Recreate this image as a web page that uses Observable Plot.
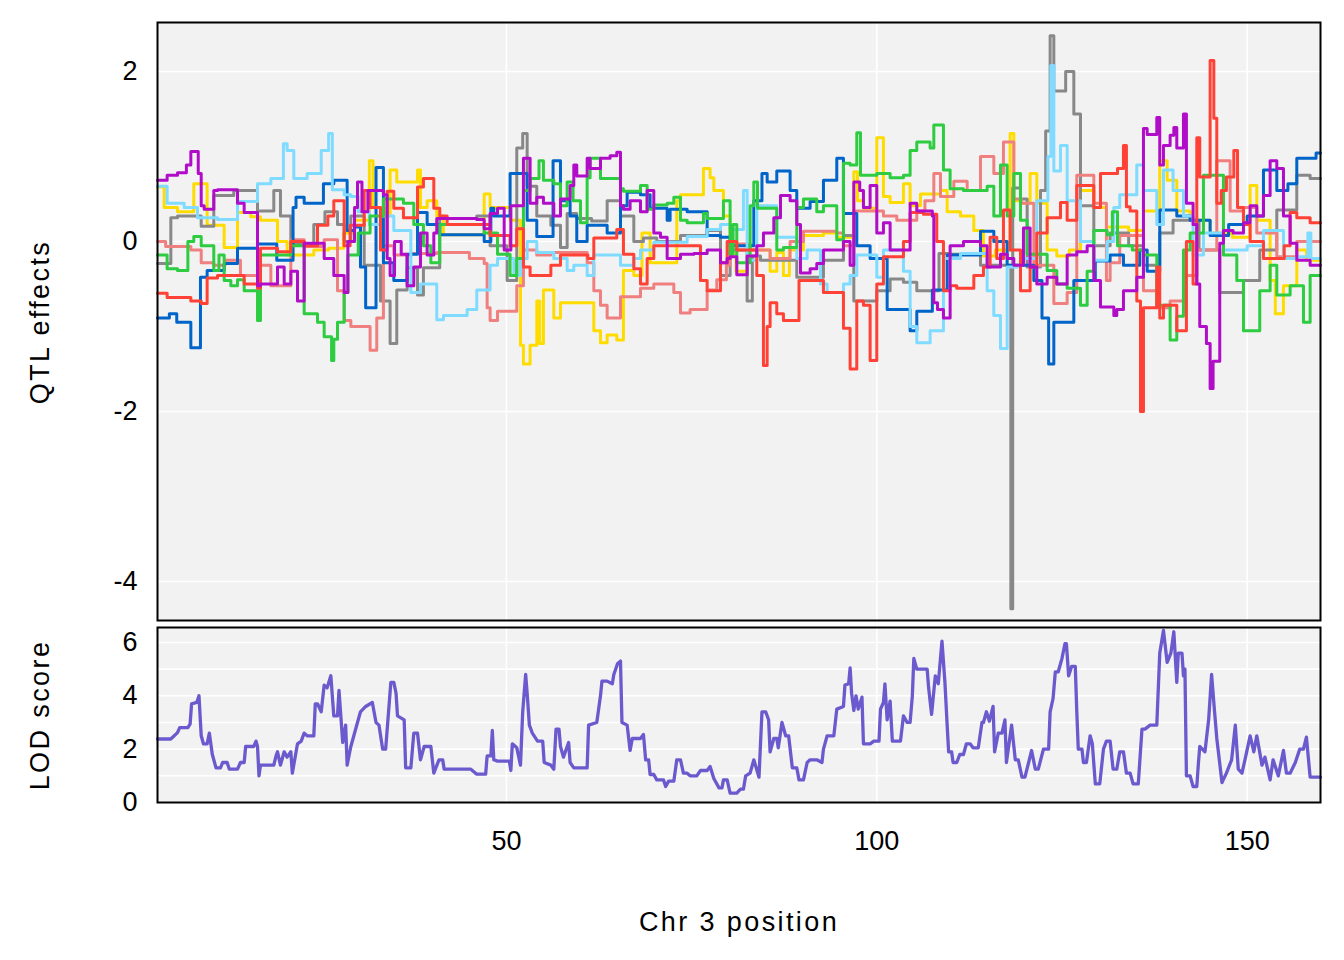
<!DOCTYPE html>
<html><head><meta charset="utf-8">
<script src="https://cdn.jsdelivr.net/npm/d3@7"></script>
<script src="https://cdn.jsdelivr.net/npm/@observablehq/plot@0.6"></script>
<style>
body{margin:0;background:#fff;font-family:"Liberation Sans",Arial,sans-serif;}
#wrap{position:relative;width:1344px;height:960px;overflow:hidden;}
#top,#bot{position:absolute;left:0;}
#top{top:0}
#bot{top:622px}
.lab{position:absolute;font-size:27px;letter-spacing:2.4px;color:#000;white-space:nowrap;}
.rot{transform:translate(-50%,-50%) rotate(-90deg);}
</style></head><body>
<div id="wrap">
<div id="top"></div><div id="bot"></div>
<div class="lab rot" style="left:40px;top:322px">QTL effects</div>
<div class="lab rot" style="left:40px;top:715px">LOD score</div>
<div class="lab" style="left:739px;top:922px;transform:translate(-50%,-50%)">Chr 3 position</div>
</div>
<script>
// ---- data (position cM, value) ----
const founders = ["AJ","B6","129","NOD","NZO","CAST","PWK","WSB"];
const founderColors = ["#FFDC00","#888888","#F08080","#0064C9","#7FDBFF","#2ECC40","#FF4136","#B10DC9"];
const xTicks = [50,100,150];
const effTicks = [2,0,-2,-4];
const lodTicks = [0,2,4,6];

const AJ = [[2.9,0.64],[3.8,0.4],[5.6,0.35],[7.8,0.68],[9.6,0.19],[11.9,-0.07],[13.7,0.34],[15.5,0.29],[16.8,0.25],[19.1,0.0],[20.4,-0.16],[24,-0.1],[26,-0.08],[28,0.1],[29.5,0.25],[31.5,0.95],[32,0.4],[33.5,0.3],[34.3,0.84],[35.2,0.7],[38,0.84],[38.4,0.4],[39.3,0.48],[40.6,0.3],[41.5,0.08],[47,0.56],[47.8,0.4],[50.5,0.25],[51.9,-1.22],[52.3,-1.44],[53.2,-1.22],[54.1,-0.7],[54.5,-1.2],[55,-0.57],[56.4,-0.9],[57.3,-0.72],[61.8,-1.05],[62.7,-1.19],[63.6,-1.1],[64.9,-1.16],[65.8,-0.34],[67.2,-0.4],[68.3,0.1],[69.4,-0.25],[73,0.48],[73.5,0.55],[76.6,0.86],[77.5,0.75],[78,0.6],[79.3,0.3],[80.2,-0.1],[81,-0.35],[82.5,-0.1],[85.6,-0.35],[86.5,-0.13],[87.4,-0.4],[88.2,-0.1],[90.1,0.07],[92.8,0.1],[94.6,0.05],[96.9,0.82],[97.4,0.48],[98.2,0.39],[100,1.22],[100.9,0.53],[101.8,0.46],[103.6,0.68],[104.5,0.42],[105.9,0.56],[108.6,0.6],[109.5,0.35],[111.3,0.3],[113.1,0.13],[114.4,-0.17],[116,-0.1],[118,1.27],[118.5,0.48],[119.4,0.45],[120.7,0.8],[121.6,0.45],[123,-0.1],[124.3,-0.17],[126,-0.1],[127.5,0.6],[129.3,0.4],[131,0.17],[134,0.13],[136,0.36],[138.2,0.95],[139.2,0.72],[140.5,0.36],[142.3,0.25],[145,0.1],[148,0.05],[150.4,0.66],[151.3,0.25],[153.1,-0.46],[153.8,-0.85],[154.9,-0.52],[156.7,-0.1],[158,-0.22],[159.9,-0.22]];

const B6 = [[2.9,-0.26],[4.7,0.28],[5.6,0.3],[8.8,0.18],[10.5,0.54],[13.2,0.6],[16.4,0.36],[18.6,0.6],[19.5,0.3],[20.9,-0.03],[24,0.2],[25.5,0.35],[27.2,0.2],[28.1,0.0],[29,0.3],[30.8,-0.28],[33,-0.7],[34.3,-1.2],[35.2,-0.57],[36.6,-0.31],[38,-0.63],[38.8,-0.31],[41,0.27],[46,0.3],[47.8,-0.05],[50.1,-0.46],[51.4,1.1],[52.2,1.27],[52.8,0.65],[54.1,0.3],[56,0.19],[57.3,-0.07],[58.2,0.33],[59.5,0.27],[61.5,0.24],[63.6,0.48],[65.4,0.3],[67.2,0.0],[68.5,0.04],[70.3,0.0],[73.5,0.07],[77.1,0.13],[78.9,-0.4],[80.2,-0.1],[82.5,-0.7],[83.2,-0.17],[84.3,-0.22],[89.2,-0.42],[92.8,-0.22],[95.5,0.07],[96.9,-0.7],[100,-0.58],[101.8,-0.44],[103.6,-0.48],[105.4,-0.58],[108.4,-0.14],[109.7,-0.15],[114,-0.28],[118.1,-4.32],[118.35,0.63],[119.4,0.5],[120.3,-0.3],[122.1,0.6],[122.8,1.3],[123.4,2.42],[123.9,1.77],[125.5,2.0],[126.6,1.5],[127.5,0.42],[129.3,-0.05],[131.5,0.1],[134,-0.05],[136,-0.28],[138.2,0.1],[140,0.25],[143.5,-0.1],[146.3,-0.6],[149.5,-0.46],[151.7,-0.1],[154,0.37],[156.7,0.78],[158.5,0.74],[159.9,0.74]];

const S129 = [[2.9,0.0],[4,-0.06],[7.4,-0.1],[8.8,-0.25],[10.5,-0.28],[12,-0.22],[14.1,-0.4],[16.4,-0.28],[18.2,-0.52],[20.9,0.02],[22.7,-0.06],[25.4,0.02],[27.2,-0.58],[28.1,-0.93],[29,-1.0],[31.6,-1.28],[32.5,-0.9],[33.4,-0.05],[34.8,-0.16],[37.1,-0.14],[40.6,-0.13],[45,-0.2],[47,-0.26],[47.4,-0.78],[47.8,-0.93],[48.8,-0.82],[51.4,-0.52],[52.3,-0.1],[54.1,-0.16],[56,-0.13],[60.9,-0.25],[61.8,-0.58],[62.7,-0.75],[63.6,-0.9],[65.4,-0.65],[68.1,-0.55],[69.9,-0.5],[72.6,-0.6],[73.5,-0.84],[74.8,-0.8],[77.1,-0.57],[78.4,-0.45],[79.7,-0.28],[80.2,-0.03],[82.9,-0.1],[85.6,-0.2],[88.3,0.0],[90.1,0.12],[94.6,0.1],[95.5,-0.05],[96.9,0.36],[100.9,0.3],[102.7,0.25],[105.4,0.36],[106.5,0.48],[107.7,0.8],[108.6,0.53],[110.4,0.71],[112.2,0.6],[114,1.0],[115.8,0.8],[117.1,1.17],[118.5,0.5],[119.5,0.45],[121.2,-0.28],[123.9,-0.73],[125.7,-0.6],[127,0.78],[129.3,0.45],[131,-0.46],[131.5,-0.25],[132.8,0.07],[136,-0.58],[137.8,-0.78],[139.6,-0.7],[141.4,-0.4],[143.2,-0.1],[145.9,0.95],[147.7,0.36],[149.5,0.4],[151.3,0.1],[154,-0.18],[156.7,0.0],[159.9,0.0]];

const NOD = [[2.9,-0.9],[4.5,-0.85],[5.5,-0.95],[7.4,-1.25],[8.7,-0.42],[9.6,-0.34],[11.9,-0.26],[13.7,-0.08],[16.4,-0.03],[19,-0.22],[21.2,0.4],[21.6,0.52],[22.7,0.45],[25.3,0.68],[26.7,0.72],[28.5,0.13],[29.5,0.17],[30.3,-0.3],[31,-0.78],[32.4,0.87],[33.4,-0.25],[34.8,-0.46],[36.6,-0.15],[38,0.34],[39.3,0.2],[41,0.08],[47,0.0],[47.9,0.39],[48.3,0.3],[50.5,0.8],[52.8,0.25],[54.1,0.06],[56.3,0.95],[57.3,0.48],[58.6,0.3],[59.5,0.0],[60.9,0.19],[63.6,0.1],[65.4,0.42],[66.3,0.58],[68.1,0.55],[69.4,0.39],[71.7,0.25],[72.1,0.38],[74.4,0.35],[77.1,0.07],[78.9,0.05],[80.2,-0.05],[83.4,0.48],[84.5,0.8],[85.2,0.7],[86.5,0.83],[88.3,0.6],[89.2,0.39],[91,0.47],[92.8,0.72],[94.6,0.98],[95.5,0.33],[97.3,-0.05],[99.1,-0.2],[101.4,-0.8],[104.5,-1.05],[105.4,-0.82],[107.5,-0.57],[109.5,-0.16],[114,0.12],[115.8,0.0],[117.6,-0.28],[121.2,-0.46],[122.3,-0.9],[123.2,-1.44],[123.9,-0.95],[126.6,-0.46],[129.5,-0.23],[131.5,-0.16],[133.3,-0.28],[135.5,-0.1],[136.5,-0.35],[138.2,0.37],[140.5,0.3],[142.3,0.25],[145,0.07],[147.5,0.2],[150,0.3],[152.2,0.84],[154,0.6],[155.5,0.68],[156.7,0.98],[159.3,1.04],[159.9,1.04]];

const NZO = [[2.9,0.65],[4.2,0.45],[6.5,0.4],[8.3,0.28],[11,0.26],[13.7,0.47],[16.4,0.68],[18.2,0.74],[19.9,1.15],[20.4,1.07],[21.3,0.74],[23.1,0.8],[25,1.07],[26,1.27],[26.5,0.61],[28.1,0.55],[29,0.53],[30,0.35],[31.5,0.2],[33,0.3],[34.8,0.13],[37.1,-0.6],[38.4,-0.5],[40.6,-0.92],[41.5,-0.87],[44.7,-0.8],[46,-0.57],[47.8,-0.28],[48.8,-0.2],[51,-0.4],[51.9,-0.2],[52.8,0.0],[54.1,-0.13],[56.4,-0.2],[58.2,-0.34],[59.1,-0.28],[60.9,-0.4],[61.8,-0.16],[65.4,-0.28],[67.2,-0.2],[68.1,-0.1],[69.9,-0.01],[74.4,0.06],[77.1,0.14],[78.9,0.2],[80.2,0.14],[82,0.6],[82.5,-0.22],[83.8,0.42],[86.5,0.05],[89.2,-0.2],[90.6,-0.1],[92.4,-0.5],[93.3,-0.6],[95.5,-0.5],[96.4,-0.4],[97.3,-0.16],[100,-0.42],[100.9,-0.1],[103.6,-0.35],[104.5,-1.0],[105.4,-1.19],[107.2,-1.05],[109,-0.2],[111.3,-0.14],[114.9,-0.58],[115.8,-0.87],[116.7,-1.26],[117.6,-0.3],[119.4,-0.2],[121.6,0.48],[123.1,1.0],[123.5,2.07],[123.9,0.83],[124.8,1.13],[125.7,0.48],[127.5,0.0],[129.3,-0.22],[131.1,0.0],[132,0.4],[132.8,0.55],[135.1,0.9],[136,0.6],[137.8,0.2],[138.7,0.84],[140,0.6],[141.4,0.3],[142.7,-0.16],[144.1,0.1],[146.8,-0.1],[150,-0.05],[152.2,0.13],[154.9,-0.2],[156.7,-0.18],[158.2,0.1],[158.6,-0.2],[159.9,-0.2]];

const CAST = [[2.9,-0.16],[4.2,-0.32],[5.6,-0.34],[7,0.0],[7.8,0.06],[8.8,-0.05],[10.5,-0.34],[11.2,-0.16],[11.9,-0.46],[12.8,-0.52],[13.7,-0.45],[14.6,-0.58],[16.4,-0.93],[16.8,-0.16],[20.9,-0.05],[22.7,-0.85],[24.5,-0.95],[25.4,-1.12],[26.4,-1.4],[26.7,-1.15],[27.2,-0.95],[28.1,-0.6],[28.6,-0.16],[30,0.1],[31.6,0.3],[33.4,0.5],[36.1,0.45],[37.5,0.2],[38.8,-0.05],[39.8,-0.25],[41,0.2],[47,0.1],[48.8,-0.15],[50.5,-0.4],[51.4,-0.2],[52.3,0.6],[53.2,0.74],[54.4,0.95],[55,0.72],[56.4,0.68],[57.3,0.42],[58.2,0.7],[59,0.48],[60,0.22],[60.9,0.75],[61.3,0.98],[62.7,0.74],[65.4,0.62],[65.8,0.59],[68.1,0.66],[69,0.38],[69.9,0.43],[71.7,0.45],[72.6,0.52],[73.5,0.25],[74.4,0.22],[76.6,0.33],[77.1,0.27],[79.3,0.48],[80.2,-0.15],[80.6,0.2],[81.1,-0.25],[82.9,0.42],[83.4,0.7],[83.9,0.39],[86.5,-0.1],[87.4,-0.07],[89.2,0.4],[90.1,0.5],[91.9,0.35],[92.8,0.42],[94.6,0.02],[95.5,0.92],[96.4,0.9],[97.3,1.28],[97.8,0.78],[100,0.8],[101.8,0.75],[103.6,0.78],[104.5,1.07],[105.4,1.17],[107.2,1.1],[107.7,1.37],[109,0.84],[109.9,0.62],[111.7,0.6],[114.9,0.65],[115.8,0.3],[116.7,0.9],[117.6,0.3],[118.5,0.8],[119.4,0.25],[120.3,-0.15],[123,-0.34],[124.3,-0.5],[125.7,-0.55],[127.5,-0.75],[128.4,-0.35],[129.3,0.13],[131.1,0.08],[131.8,0.35],[132.5,-0.05],[134.5,-0.1],[136,-0.16],[137.8,-0.75],[139.6,-1.16],[140.5,-0.88],[141.4,-0.1],[142.3,0.1],[144.1,0.78],[146.8,-0.16],[148.6,-0.46],[149.5,-1.05],[151.7,-0.58],[153.1,-0.28],[154,-0.63],[155.8,-0.52],[157.6,-0.95],[158.5,-0.4],[159.9,-0.4]];

const PWK = [[2.9,-0.61],[4.2,-0.66],[7.4,-0.7],[8.8,-0.73],[9.6,-0.43],[11,-0.4],[14.6,-0.5],[16.4,-0.55],[16.8,-0.08],[19.1,-0.12],[20.9,0.0],[22.7,-0.05],[24.5,0.19],[25.9,0.3],[26.7,0.48],[28.1,-0.05],[28.9,0.19],[30.8,0.6],[31.6,0.4],[33,-0.1],[33.9,0.59],[34.8,0.39],[36.1,0.28],[38,0.64],[38.8,0.74],[40.2,0.39],[41,0.3],[42,0.2],[47.8,0.07],[50.5,-0.05],[51.4,0.15],[52.3,-0.3],[53.2,-0.4],[56,-0.28],[57.3,-0.16],[61,-0.2],[61.8,0.04],[64.9,0.14],[65.8,-0.15],[67.2,-0.32],[68.1,-0.5],[69,-0.2],[69.9,-0.05],[76.2,-0.46],[77.1,-0.58],[78.9,-0.25],[79.8,0.0],[81.1,-0.1],[83.8,-0.4],[84.7,-1.46],[85.2,-1.0],[85.6,-0.72],[86.5,-0.85],[87.4,-0.93],[89.5,-0.46],[92.8,-0.6],[95.5,-1.02],[96.4,-1.5],[97.3,-0.7],[98.2,-0.75],[99.1,-1.4],[100,-0.5],[100.9,-0.18],[103.6,0.0],[104.5,0.34],[106.3,0.32],[108.1,0.0],[109,-0.58],[109.9,-0.52],[110.8,-0.55],[113.1,-0.4],[114.4,-0.3],[115.3,0.05],[116.2,-0.2],[117.1,0.37],[118,-0.1],[119.4,-0.58],[120.7,-0.3],[121.6,0.1],[123,0.28],[124.8,0.46],[125.7,0.25],[127,0.66],[129.3,0.4],[130.2,0.8],[132.5,0.86],[133.3,1.13],[133.7,0.41],[134.2,0.36],[135.1,-0.7],[135.6,-2.0],[136,-0.78],[137.8,-0.3],[138.2,-0.9],[138.7,-0.75],[140.5,-1.05],[141.8,0.0],[142.7,-0.5],[143.2,1.22],[143.6,0.76],[145,2.13],[145.5,1.45],[145.9,0.45],[146.5,0.6],[147.2,0.76],[148.2,1.07],[148.7,0.4],[149.5,0.2],[150.4,0.0],[152.2,-0.2],[155,-0.05],[155.8,0.34],[156.7,0.28],[158.5,0.22],[159.9,0.22]];

const WSB = [[2.9,0.72],[4.2,0.78],[5.6,0.81],[6.8,0.9],[7.4,1.06],[8.4,0.8],[8.8,0.42],[9.2,0.38],[10.5,0.6],[11,0.61],[13.7,0.45],[14.6,0.34],[16.4,-0.52],[16.8,-0.5],[19.1,-0.3],[20,-0.5],[20.9,-0.35],[21.8,-0.7],[22.7,-0.02],[25.4,-0.2],[26.7,-0.4],[28.1,-0.6],[28.6,0.0],[29.5,0.4],[29.9,0.7],[30.5,0.35],[31.3,0.6],[33.4,0.55],[33.9,-0.2],[34.3,-0.4],[34.9,0.0],[35.8,-0.15],[36.6,-0.52],[37.5,-0.3],[38.4,0.1],[39.3,-0.16],[40.2,0.1],[40.6,0.27],[46,0.26],[47,0.15],[47.8,0.33],[48.8,0.39],[49.7,-0.1],[50.6,0.42],[52.3,0.98],[53.2,0.45],[54.1,0.52],[55,0.45],[56.4,0.3],[57.3,0.5],[58.6,0.66],[59.1,0.9],[59.5,0.77],[60.9,0.98],[61.3,0.86],[62.7,0.98],[64,1.01],[64.9,1.05],[65.4,0.42],[65.8,0.38],[66.7,0.48],[68.1,0.35],[69,0.6],[69.9,0.1],[70.8,0.05],[71.7,-0.2],[73.5,-0.15],[75.3,-0.14],[77.1,-0.1],[78.9,-0.25],[79.8,-0.2],[80.2,-0.18],[81.1,-0.39],[82.5,-0.17],[83.8,-0.05],[84.7,0.1],[86.1,0.28],[87,0.54],[88.3,0.48],[89.2,0.2],[89.7,-0.37],[91,-0.32],[91.9,-0.26],[92.8,-0.1],[95.5,0.0],[96.4,-0.28],[96.9,0.7],[97.7,0.6],[98.2,0.4],[99.1,0.66],[100,0.1],[100.9,0.22],[101.8,-0.1],[104.5,0.45],[105.4,0.36],[107.5,0.3],[107.7,-0.72],[108.2,-0.8],[109,-0.9],[109.9,-0.05],[111.7,0.0],[114,-0.05],[114.9,-0.3],[116.7,-0.15],[117.6,-0.2],[118.5,-0.28],[119.8,0.16],[120.7,-0.3],[121.6,-0.5],[123,-0.42],[124.3,-0.5],[125.7,-0.16],[127,-0.12],[128.4,-0.05],[129.3,-0.46],[130.2,-0.77],[132,-0.87],[132.4,-0.8],[133.3,-0.58],[135.1,-0.42],[136,1.33],[136.5,1.26],[137.8,1.46],[138.2,0.9],[138.7,1.13],[139.6,1.25],[140.1,1.34],[140.5,1.1],[141.4,1.5],[141.8,0.45],[142.7,0.2],[143.2,-0.5],[143.6,-1.0],[144.5,-1.2],[145,-1.73],[145.4,-1.41],[146.3,-0.02],[146.8,0.13],[148.1,0.1],[149.5,0.22],[150.4,0.42],[151.3,0.3],[152.2,0.54],[153.1,0.95],[154,0.86],[154.9,0.3],[155.8,-0.02],[156.7,-0.22],[158.5,-0.28],[159.9,-0.28]];

const LOD = [[2.9,2.38],[4.7,2.38],[5.6,2.62],[5.9,2.81],[7,2.81],[7.3,2.94],[7.5,3.7],[8.2,3.75],[8.5,4.0],[8.8,2.5],[9.1,2.2],[9.6,2.2],[9.9,2.6],[10.3,1.8],[10.8,1.3],[11.4,1.3],[11.7,1.5],[12.3,1.5],[12.6,1.25],[13.7,1.25],[14.1,1.5],[14.6,1.5],[14.8,2.1],[15.9,2.1],[16.2,2.3],[16.4,2.1],[16.6,1.0],[16.8,1.4],[18.6,1.4],[18.9,1.75],[19.1,1.9],[19.5,1.4],[20,1.9],[20.4,1.7],[20.9,1.9],[21.1,1.1],[21.8,2.2],[22.3,2.3],[22.7,2.6],[23.1,2.5],[24,2.5],[24.2,3.7],[24.5,3.7],[25,3.4],[25.4,4.4],[25.8,4.3],[26.3,4.75],[26.7,3.25],[27.2,3.25],[27.4,4.2],[27.9,2.25],[28.3,2.9],[28.5,1.4],[29,2.1],[29.7,2.8],[30.3,3.4],[31,3.6],[31.9,3.75],[32.4,3.0],[32.8,2.9],[33.3,2.0],[33.7,2.0],[34.4,4.5],[34.8,4.5],[35.1,4.1],[35.3,3.25],[36.2,3.1],[36.4,1.3],[37.1,1.3],[37.5,2.6],[38,2.6],[38.4,1.6],[38.9,2.1],[39.8,2.1],[40.2,1.1],[40.9,1.6],[41.4,1.6],[41.6,1.25],[45.2,1.25],[46,1.06],[47.2,1.06],[47.4,1.75],[47.9,1.75],[48.1,2.7],[48.3,1.6],[48.8,1.55],[50.4,1.55],[50.6,1.2],[50.8,2.2],[51.4,2.05],[51.9,1.4],[52.2,3.4],[52.6,4.8],[52.8,4.1],[53.1,2.9],[53.5,2.6],[54.2,2.3],[54.9,2.3],[55.1,1.5],[56,1.4],[56.4,1.25],[56.7,2.75],[57.1,2.75],[57.3,2.1],[57.7,1.7],[58.4,2.25],[58.6,1.5],[59.1,1.3],[60.9,1.3],[61.1,2.9],[62.2,3.0],[62.7,4.0],[62.9,4.55],[63.6,4.55],[64.3,4.45],[64.5,4.8],[65,5.2],[65.4,5.3],[65.6,3.0],[66.3,2.9],[66.7,1.95],[67,2.4],[68.1,2.4],[68.5,2.55],[68.8,1.6],[69.2,1.6],[69.4,1.05],[69.9,1.05],[70.3,0.85],[71.2,0.85],[71.5,0.6],[71.9,0.8],[72.6,0.8],[73,1.6],[73.5,1.6],[73.9,1.1],[74.4,1.1],[74.8,1.0],[75.7,1.0],[76.2,1.2],[77.1,1.2],[77.5,1.35],[78,0.9],[78.7,0.55],[79.1,0.55],[79.3,0.85],[79.8,0.85],[80.2,0.35],[81.1,0.35],[81.6,0.5],[82,0.5],[82.3,1.0],[82.9,1.1],[83.4,1.6],[84.1,0.95],[84.5,3.4],[85,3.4],[85.4,3.1],[85.6,1.9],[86.1,2.4],[86.5,2.4],[86.7,2.05],[87.2,3.0],[87.7,2.5],[88.1,2.5],[88.6,1.3],[89.2,1.3],[89.5,0.85],[90.1,0.85],[90.6,1.5],[91,1.6],[91.9,1.6],[92.6,1.5],[92.8,2.0],[93.3,2.5],[94.2,2.5],[94.6,3.5],[95.5,3.6],[95.7,4.4],[96.2,4.45],[96.4,5.05],[96.6,4.1],[96.9,3.45],[97.2,4.0],[97.5,3.5],[98,3.95],[98.2,2.2],[99.1,2.2],[99.6,2.3],[100.3,2.3],[100.5,3.5],[100.9,3.75],[101.1,4.45],[101.4,3.1],[101.8,3.8],[102.1,2.3],[103.2,2.3],[103.6,3.25],[104.1,3.0],[104.5,3.0],[104.8,4.0],[105,5.4],[105.4,5.0],[106.8,5.0],[107,4.3],[107.4,3.3],[107.9,4.75],[108.3,4.45],[108.8,6.05],[109.2,4.5],[109.5,2.9],[109.7,1.9],[110.1,1.9],[110.3,1.5],[110.8,1.5],[111.2,1.8],[111.7,1.8],[112.1,2.2],[112.6,2.2],[113,2.05],[113.7,2.05],[114.2,3.0],[114.4,3.0],[114.8,3.4],[115.2,3.05],[115.7,3.6],[115.9,1.9],[116.4,2.6],[116.9,2.6],[117.3,3.1],[117.5,1.5],[118.2,2.9],[118.7,1.6],[119.1,1.6],[119.6,0.95],[120,0.95],[120.5,1.5],[120.9,1.95],[121.4,1.25],[121.8,1.25],[122.5,2.0],[123.2,2.0],[123.4,3.4],[123.8,3.9],[124.1,4.9],[124.5,4.9],[125,5.4],[125.4,5.95],[125.6,5.95],[125.9,4.75],[126.3,5.1],[126.8,5.1],[127,3.4],[127.2,2.0],[127.7,2.0],[127.9,1.5],[128.3,1.5],[128.8,2.5],[129.1,2.2],[129.5,0.7],[130.1,0.7],[130.6,2.0],[131,2.3],[131.5,2.3],[131.9,1.25],[132.4,1.25],[132.8,1.9],[133.3,1.9],[133.7,1.1],[134.2,1.1],[134.6,0.7],[135.3,0.7],[135.8,2.75],[136.2,2.75],[136.9,2.9],[137.8,2.9],[138.2,5.6],[138.7,6.45],[139.2,5.25],[139.7,5.6],[140.1,6.4],[140.5,4.5],[140.7,5.6],[141.2,5.6],[141.4,4.75],[141.6,5.0],[141.8,1.0],[142.3,1.0],[142.7,0.6],[143.2,0.6],[143.4,1.4],[143.6,2.1],[144.3,1.9],[144.8,3.1],[145.2,4.8],[145.6,3.4],[145.9,2.4],[146.6,0.75],[147.2,1.1],[147.9,1.6],[148.4,2.9],[148.8,1.25],[149.3,1.1],[149.7,1.6],[150.4,2.5],[150.9,1.9],[151.3,2.5],[152,1.4],[152.4,1.7],[153.1,0.85],[153.5,1.6],[154.2,1.0],[154.9,1.95],[155.3,1.1],[155.8,1.1],[156.5,1.5],[157.1,2.0],[157.6,2.0],[158,2.45],[158.5,0.95],[159.9,0.95]];

const effectSeries = [AJ,B6,S129,NOD,NZO,CAST,PWK,WSB];

// ---- build tables ----
const effects = [];
effectSeries.forEach((arr,i)=>arr.forEach(([pos,val])=>effects.push({pos,val,founder:founders[i]})));
const lodRows = LOD.map(([pos,lod])=>({pos,lod}));

const xDomain = [2.9,159.9];
const font = {fontSize:"27px",fontFamily:"'Liberation Sans', Arial, sans-serif",background:"transparent",overflow:"visible",color:"#000"};
const fmt = d=>String(d);

const topPlot = Plot.plot({
  width:1344, height:622,
  marginLeft:157, marginRight:24, marginTop:22, marginBottom:2,
  style:font,
  x:{domain:xDomain, axis:null},
  y:{domain:[-4.4588,2.5765], ticks:effTicks, tickSize:0, tickPadding:20, label:null, tickFormat:fmt},
  color:{domain:founders, range:founderColors},
  marks:[
    Plot.frame({fill:"#F2F2F2"}),
    Plot.ruleY(effTicks,{stroke:"white",strokeWidth:1.6}),
    Plot.ruleX(xTicks,{stroke:"white",strokeWidth:1.6}),
    ...founders.map(f=>Plot.line(effects.filter(d=>d.founder===f),{x:"pos",y:"val",stroke:"founder",strokeWidth:3,curve:"step-after"})),
    Plot.frame({stroke:"black",strokeWidth:2})
  ]
});
document.getElementById("top").appendChild(topPlot);

const botPlot = Plot.plot({
  width:1344, height:338,
  marginLeft:157, marginRight:24, marginTop:5, marginBottom:158,
  style:font,
  x:{domain:xDomain, ticks:xTicks, tickSize:0, tickPadding:28, label:null, tickFormat:fmt},
  y:{domain:[0,6.56], ticks:lodTicks, tickSize:0, tickPadding:20, label:null, tickFormat:fmt},
  marks:[
    Plot.frame({fill:"#F2F2F2"}),
    Plot.ruleY([1,2,3,4,5,6],{stroke:"white",strokeWidth:1.6}),
    Plot.ruleX(xTicks,{stroke:"white",strokeWidth:1.6}),
    Plot.line(lodRows,{x:"pos",y:"lod",stroke:"#6A5ACD",strokeWidth:3.3}),
    Plot.frame({stroke:"black",strokeWidth:2})
  ]
});
document.getElementById("bot").appendChild(botPlot);
</script>
</body></html>
